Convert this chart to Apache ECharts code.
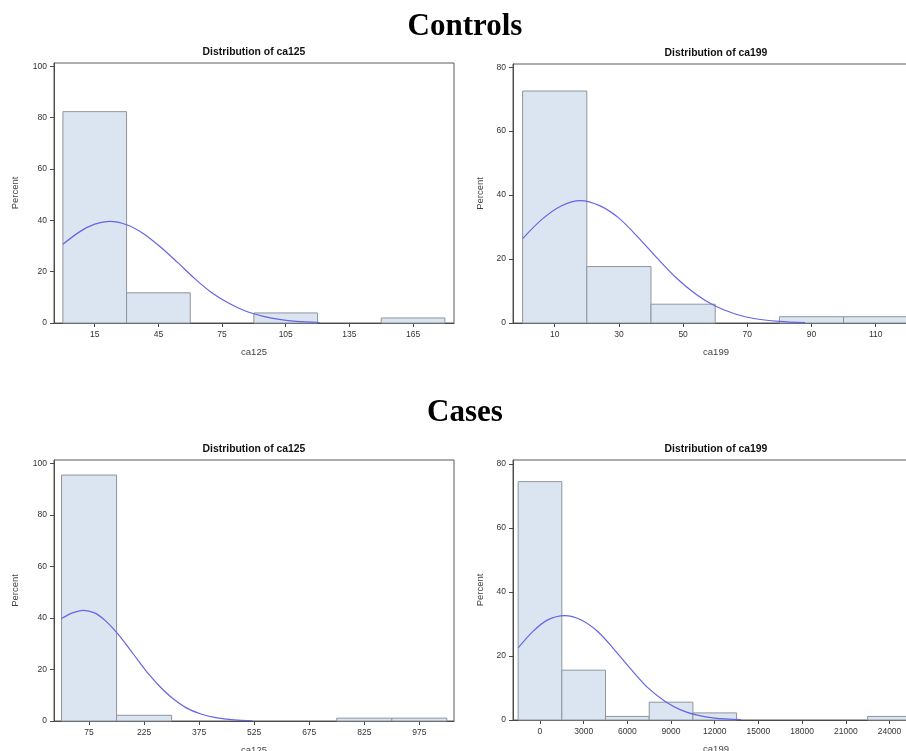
<!DOCTYPE html>
<html>
<head>
<meta charset="utf-8">
<script src="https://cdn.jsdelivr.net/npm/echarts@6/dist/echarts.min.js"></script>
<style>
  html, body { margin: 0; padding: 0; background: #ffffff; }
  #chart { width: 906px; height: 751px; }
</style>
</head>
<body>
<div id="chart"></div>
<script>
// ---- Controls: ca125 histogram (bin edges and percent of subjects) ----
const ctrlCa125Lo  = [0, 30, 90, 150];
const ctrlCa125Hi  = [30, 60, 120, 180];
const ctrlCa125Pct = [82.35, 11.76, 3.92, 1.96];
const ctrlCa125Ticks = [15, 45, 75, 105, 135, 165];
// fitted normal curve, as (x, percent) points
const ctrlCa125CurveX = [0, 8, 15, 22, 30, 38, 46, 54, 62, 70, 78, 86, 94, 102, 110, 121];
const ctrlCa125CurveY = [30.7, 35.6, 38.5, 39.6, 38.3, 34.8, 29.6, 23.6, 17.4, 11.9, 7.8, 4.7, 2.7, 1.4, 0.6, 0.2];

// ---- Controls: ca199 ----
const ctrlCa199Lo  = [0, 20, 40, 80, 100];
const ctrlCa199Hi  = [20, 40, 60, 100, 120];
const ctrlCa199Pct = [72.55, 17.65, 5.88, 1.96, 1.96];
const ctrlCa199Ticks = [10, 30, 50, 70, 90, 110];
const ctrlCa199CurveX = [0, 6, 12, 18, 24, 30, 36, 42, 48, 54, 60, 66, 72, 80, 88];
const ctrlCa199CurveY = [26.4, 32.4, 36.6, 38.3, 36.7, 32.8, 26.8, 20.2, 14.0, 9.0, 5.3, 2.9, 1.4, 0.5, 0.1];

// ---- Cases: ca125 ----
const caseCa125Lo  = [0, 150, 750, 900];
const caseCa125Hi  = [150, 300, 900, 1050];
const caseCa125Pct = [95.56, 2.22, 1.11, 1.11];
const caseCa125Ticks = [75, 225, 375, 525, 675, 825, 975];
const caseCa125CurveX = [0, 30, 60, 90, 120, 150, 180, 210, 240, 270, 300, 340, 380, 420, 470, 520];
const caseCa125CurveY = [39.8, 42.0, 43.0, 42.0, 38.9, 34.4, 29.0, 23.3, 17.8, 13.1, 9.1, 5.1, 2.7, 1.3, 0.4, 0.1];

// ---- Cases: ca199 ----
const caseCa199Lo  = [-1500, 1500, 4500, 7500, 10500, 22500];
const caseCa199Hi  = [1500, 4500, 7500, 10500, 13500, 25500];
const caseCa199Pct = [74.44, 15.56, 1.11, 5.56, 2.22, 1.11];
const caseCa199Ticks = [0, 3000, 6000, 9000, 12000, 15000, 18000, 21000, 24000];
const caseCa199CurveX = [-1500, -500, 500, 1700, 2800, 4000, 5100, 6300, 7400, 8600, 9700, 10800, 12000, 13800];
const caseCa199CurveY = [22.5, 27.6, 31.2, 32.6, 31.3, 27.5, 22.0, 15.6, 10.1, 5.8, 3.1, 1.5, 0.6, 0.1];

const percentTicks100 = [0, 20, 40, 60, 80, 100];
const percentTicks80  = [0, 20, 40, 60, 80];

// ---- styling ----
const BAR_FILL = '#dbe5f1';
const BAR_EDGE = '#8e959d';
const CURVE = '#6464e6';
const AXIS = '#4a4a4a';
const TEXT = '#333333';
const SANS = '"Liberation Sans", Arial, sans-serif';
const SERIF = '"Liberation Serif", "Times New Roman", serif';

// panel frames in pixels and the value ranges they cover
const panels = [
  { left: 54, top: 63,  width: 400, height: 260, xMin: -4.2,  xMax: 184.3, yMax: 101.3,
    lo: ctrlCa125Lo, hi: ctrlCa125Hi, pct: ctrlCa125Pct, ticks: ctrlCa125Ticks, yTicks: percentTicks100,
    cx: ctrlCa125CurveX, cy: ctrlCa125CurveY, title: 'Distribution of ca125', xName: 'ca125', yNameGap: 34 },
  { left: 513, top: 64, width: 406, height: 259, xMin: -3,    xMax: 123.5, yMax: 81.0,
    lo: ctrlCa199Lo, hi: ctrlCa199Hi, pct: ctrlCa199Pct, ticks: ctrlCa199Ticks, yTicks: percentTicks80,
    cx: ctrlCa199CurveX, cy: ctrlCa199CurveY, title: 'Distribution of ca199', xName: 'ca199', yNameGap: 28 },
  { left: 54, top: 460, width: 400, height: 261, xMin: -20.5, xMax: 1069.5, yMax: 101.4,
    lo: caseCa125Lo, hi: caseCa125Hi, pct: caseCa125Pct, ticks: caseCa125Ticks, yTicks: percentTicks100,
    cx: caseCa125CurveX, cy: caseCa125CurveY, title: 'Distribution of ca125', xName: 'ca125', yNameGap: 34 },
  { left: 513, top: 460, width: 406, height: 260, xMin: -1853, xMax: 26026, yMax: 81.2,
    lo: caseCa199Lo, hi: caseCa199Hi, pct: caseCa199Pct, ticks: caseCa199Ticks, yTicks: percentTicks80,
    cx: caseCa199CurveX, cy: caseCa199CurveY, title: 'Distribution of ca199', xName: 'ca199', yNameGap: 28 }
];

const plainNumber = v => String(v);
const grid = [], xAxis = [], yAxis = [], series = [], graphic = [];

panels.forEach((p, i) => {
  grid.push({
    left: p.left, top: p.top, width: p.width, height: p.height,
    show: true, borderColor: '#5a5a5a', borderWidth: 1, backgroundColor: 'transparent',
    containLabel: false, outerBoundsMode: 'none'
  });
  xAxis.push({
    type: 'value', gridIndex: i, min: p.xMin, max: p.xMax,
    name: p.xName, nameLocation: 'middle', nameGap: 24,
    nameTextStyle: { fontFamily: SANS, fontSize: 9.5, color: '#444' },
    axisLine: { show: true, onZero: false, lineStyle: { color: AXIS, width: 1 } },
    axisTick: { show: true, length: 4, customValues: p.ticks, lineStyle: { color: AXIS } },
    axisLabel: { customValues: p.ticks, formatter: plainNumber, margin: 7,
                 fontFamily: SANS, fontSize: 8.5, color: TEXT, hideOverlap: false },
    splitLine: { show: false }
  });
  yAxis.push({
    type: 'value', gridIndex: i, min: 0, max: p.yMax,
    name: 'Percent', nameLocation: 'middle', nameGap: p.yNameGap, nameRotate: 90,
    nameTextStyle: { fontFamily: SANS, fontSize: 9.5, color: '#444' },
    axisLine: { show: true, onZero: false, lineStyle: { color: AXIS, width: 1 } },
    axisTick: { show: true, length: 4, customValues: p.yTicks, lineStyle: { color: AXIS } },
    axisLabel: { customValues: p.yTicks, formatter: plainNumber, margin: 7,
                 fontFamily: SANS, fontSize: 8.5, color: TEXT },
    splitLine: { show: false }
  });
  series.push({
    type: 'custom', xAxisIndex: i, yAxisIndex: i,
    data: p.lo.map((lo, k) => [lo, p.hi[k], p.pct[k]]),
    encode: { x: [0, 1], y: 2 },
    renderItem: (params, api) => {
      const a = api.coord([api.value(0), api.value(2)]);
      const b = api.coord([api.value(1), 0]);
      return {
        type: 'rect',
        shape: { x: a[0], y: a[1], width: b[0] - a[0], height: b[1] - a[1] },
        style: { fill: BAR_FILL, stroke: BAR_EDGE, lineWidth: 1 }
      };
    },
    z: 2
  });
  series.push({
    type: 'line', xAxisIndex: i, yAxisIndex: i,
    data: p.cx.map((x, k) => [x, p.cy[k]]),
    smooth: 0.3, showSymbol: false, symbol: 'none',
    lineStyle: { color: CURVE, width: 1.2 },
    z: 3
  });
  graphic.push({
    type: 'text',
    x: p.left + p.width / 2, y: p.top - 11,
    style: { text: p.title, align: 'center', verticalAlign: 'middle',
             font: 'bold 10.4px ' + SANS, fill: '#111' }
  });
});

graphic.push({
  type: 'text', x: 465, y: 27,
  style: { text: 'Controls', align: 'center', verticalAlign: 'middle', font: 'bold 31px ' + SERIF, fill: '#000' }
});
graphic.push({
  type: 'text', x: 465, y: 413,
  style: { text: 'Cases', align: 'center', verticalAlign: 'middle', font: 'bold 31px ' + SERIF, fill: '#000' }
});

const chart = echarts.init(document.getElementById('chart'), null, { renderer: 'canvas' });
chart.setOption({
  animation: false,
  backgroundColor: '#ffffff',
  grid, xAxis, yAxis, series, graphic
});
</script>
</body>
</html>
